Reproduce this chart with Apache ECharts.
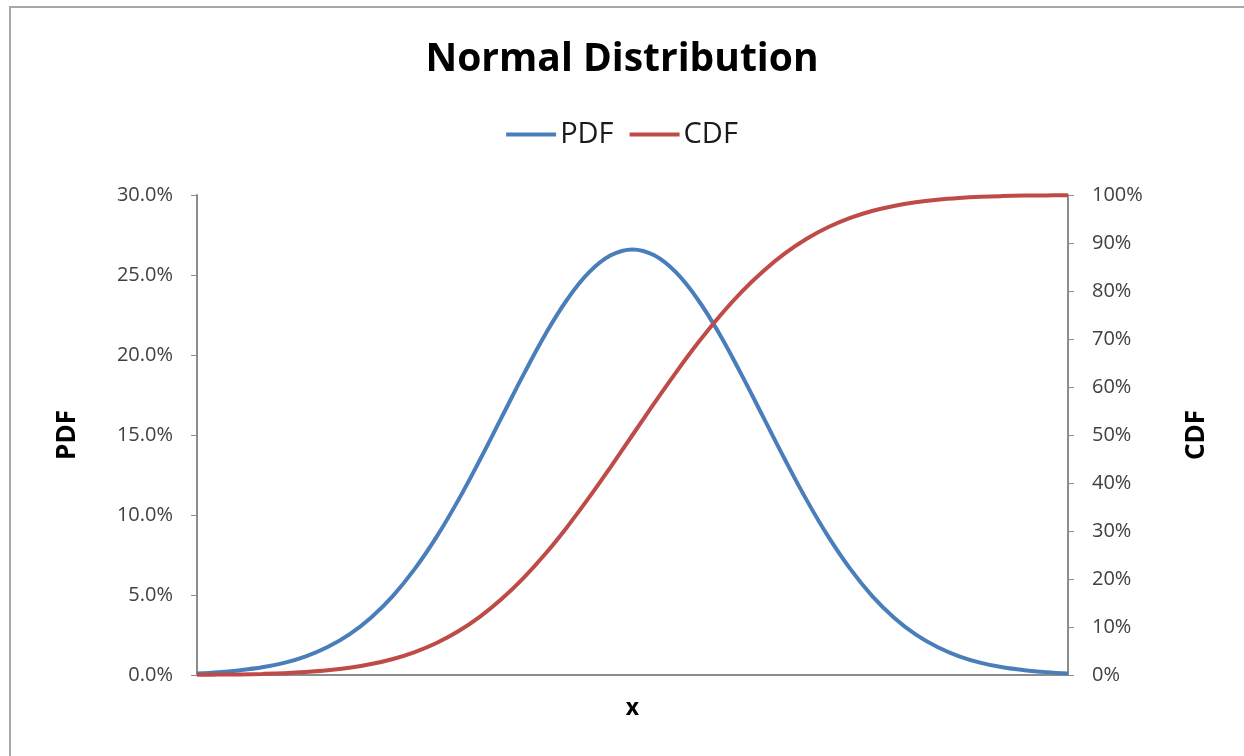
<!DOCTYPE html>
<html>
<head>
<meta charset="utf-8">
<script src="https://cdn.jsdelivr.net/npm/echarts@6/dist/echarts.min.js"></script>
<style>
html,body{margin:0;padding:0;background:#fff;}
#chart{width:1244px;height:756px;}
</style>
</head>
<body>
<div id="chart"></div>
<script>
const xValues = [-5,-4.75,-4.5,-4.25,-4,-3.75,-3.5,-3.25,-3,-2.75,-2.5,-2.25,-2,-1.75,-1.5,-1.25,-1,-0.75,-0.5,-0.25,0,0.25,0.5,0.75,1,1.25,1.5,1.75,2,2.25,2.5,2.75,3,3.25,3.5,3.75,4,4.25,4.5,4.75,5];
const pdfValues = [0.0010,0.0018,0.0030,0.0048,0.0076,0.0117,0.0175,0.0254,0.0360,0.0495,0.0663,0.0863,0.1093,0.1347,0.1613,0.1879,0.2130,0.2347,0.2516,0.2623,0.2660,0.2623,0.2516,0.2347,0.2130,0.1879,0.1613,0.1347,0.1093,0.0863,0.0663,0.0495,0.0360,0.0254,0.0175,0.0117,0.0076,0.0048,0.0030,0.0018,0.0010];
const cdfValues = [0.0004,0.0008,0.0013,0.0023,0.0038,0.0062,0.0098,0.0151,0.0228,0.0334,0.0478,0.0668,0.0912,0.1217,0.1587,0.2023,0.2525,0.3085,0.3694,0.4338,0.5000,0.5662,0.6306,0.6915,0.7475,0.7977,0.8413,0.8783,0.9088,0.9332,0.9522,0.9666,0.9772,0.9849,0.9902,0.9938,0.9962,0.9977,0.9987,0.9992,0.9996];
const pdfTicks = ['0.0%','5.0%','10.0%','15.0%','20.0%','25.0%','30.0%'];
const cdfTicks = ['0%','10%','20%','30%','40%','50%','60%','70%','80%','90%','100%'];

const pdfData = xValues.map((x, i) => [x, pdfValues[i]]);
const cdfData = xValues.map((x, i) => [x, cdfValues[i]]);

const FONT = '"Open Sans", "DejaVu Sans", sans-serif';
const chart = echarts.init(document.getElementById('chart'), null, {renderer: 'canvas'});
chart.setOption({
  backgroundColor: '#ffffff',
  animation: false,
  title: {
    text: 'Normal Distribution',
    left: 'center',
    top: 35,
    textStyle: {fontFamily: FONT, fontSize: 39, fontWeight: 'bold', color: '#000'}
  },
  legend: {
    top: 115,
    left: 'center',
    itemWidth: 50,
    itemHeight: 4,
    itemGap: 16,
    icon: 'rect',
    textStyle: {fontFamily: FONT, fontSize: 29, color: '#1a1a1a', padding: [0, 0, 0, -1]},
    data: ['PDF', 'CDF']
  },
  graphic: [{
    type: 'polyline',
    shape: {points: [[10, 760], [10, 7], [1250, 7]]},
    style: {stroke: '#a8a8a8', lineWidth: 2, fill: null},
    silent: true
  }],
  grid: {left: 197, right: 176, top: 195, bottom: 81},
  xAxis: {
    type: 'value',
    min: -5,
    max: 5,
    name: 'x',
    nameLocation: 'middle',
    nameGap: 22,
    nameTextStyle: {fontFamily: FONT, fontSize: 23, fontWeight: 'bold', color: '#000'},
    axisLine: {show: true, onZero: false, lineStyle: {color: '#8c8c8c', width: 2}},
    axisTick: {show: false},
    axisLabel: {show: false},
    splitLine: {show: false}
  },
  yAxis: [{
    type: 'value',
    min: 0,
    max: 0.3,
    interval: 0.05,
    position: 'left',
    name: 'PDF',
    nameLocation: 'middle',
    nameGap: 116,
    nameRotate: 90,
    nameTextStyle: {fontFamily: FONT, fontSize: 26, fontWeight: 'bold', color: '#000'},
    axisLine: {show: true, onZero: false, lineStyle: {color: '#8c8c8c', width: 2}},
    axisTick: {show: true, length: 6, lineStyle: {color: '#8c8c8c', width: 1}},
    axisLabel: {
      fontFamily: FONT, fontSize: 20, color: '#404040', margin: 24,
      formatter: (v) => pdfTicks[Math.round(v / 0.05)]
    },
    splitLine: {show: false}
  }, {
    type: 'value',
    min: 0,
    max: 1,
    interval: 0.1,
    position: 'right',
    name: 'CDF',
    nameLocation: 'middle',
    nameGap: 116,
    nameRotate: 90,
    nameTextStyle: {fontFamily: FONT, fontSize: 26, fontWeight: 'bold', color: '#000'},
    axisLine: {show: true, onZero: false, lineStyle: {color: '#8c8c8c', width: 2}},
    axisTick: {show: true, length: 6, lineStyle: {color: '#8c8c8c', width: 1}},
    axisLabel: {
      fontFamily: FONT, fontSize: 20, color: '#404040', margin: 24,
      formatter: (v) => cdfTicks[Math.round(v / 0.1)]
    },
    splitLine: {show: false}
  }],
  series: [{
    name: 'PDF',
    type: 'line',
    yAxisIndex: 0,
    data: pdfData,
    smooth: 0.4,
    showSymbol: false,
    color: '#4a7ebb',
    lineStyle: {color: '#4a7ebb', width: 4}
  }, {
    name: 'CDF',
    type: 'line',
    yAxisIndex: 1,
    data: cdfData,
    smooth: 0.4,
    showSymbol: false,
    color: '#be4b48',
    lineStyle: {color: '#be4b48', width: 4}
  }]
});
</script>
</body>
</html>
